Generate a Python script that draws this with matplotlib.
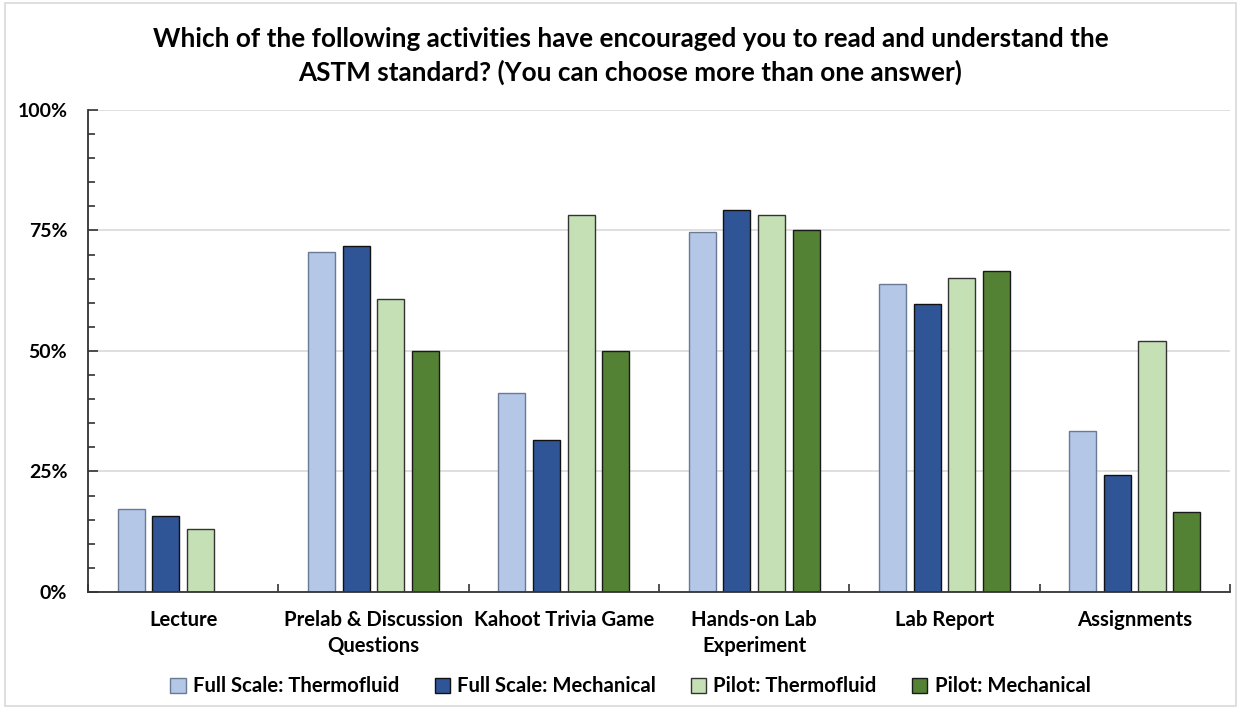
import numpy as np
import matplotlib
matplotlib.use('Agg')
import matplotlib.pyplot as plt
from matplotlib.ticker import MultipleLocator, PercentFormatter
from matplotlib.patches import Rectangle

plt.rcParams['font.family'] = ['Lato', 'DejaVu Sans']
plt.rcParams['font.weight'] = 'bold'

categories = ['Lecture', 'Prelab & Discussion\nQuestions', 'Kahoot Trivia Game',
              'Hands-on Lab\nExperiment', 'Lab Report', 'Assignments']
series_names = ['Full Scale: Thermofluid', 'Full Scale: Mechanical',
                'Pilot: Thermofluid', 'Pilot: Mechanical']
fs_thermo = [17.3, 70.6, 41.3, 74.7, 63.9, 33.4]
fs_mech = [15.7, 71.8, 31.6, 79.2, 59.7, 24.3]
pilot_thermo = [13.0, 60.8, 78.3, 78.3, 65.2, 52.1]
pilot_mech = [0, 50.0, 50.0, 75.0, 66.6, 16.7]

colors = ['#B4C7E7', '#2F5597', '#C5E0B4', '#548235']
edges = ['#6A7A94', '#111111', '#333333', '#1a1a1a']

fig = plt.figure(figsize=(12.41, 7.09), dpi=100)
ax = fig.add_axes([0.071, 0.165, 0.92, 0.68])

x = np.arange(len(categories))
pitch = 0.182
width = 0.142
data = [fs_thermo, fs_mech, pilot_thermo, pilot_mech]
for i, vals in enumerate(data):
    v = np.array(vals, dtype=float)
    xs = x + (i - 1.5) * pitch
    mask = v > 0
    ax.bar(xs[mask], v[mask], width, color=colors[i], edgecolor=edges[i],
           linewidth=1.0, label=series_names[i], zorder=3)

ax.set_xlim(-0.5, len(categories) - 0.5)
ax.set_ylim(0, 100)
ax.yaxis.set_major_locator(MultipleLocator(25))
ax.yaxis.set_minor_locator(MultipleLocator(5))
ax.yaxis.set_major_formatter(PercentFormatter(decimals=0))
ax.grid(axis='y', color='#D9D9D9', linewidth=1.2, zorder=0)

ax.set_xticks(x)
ax.set_xticklabels(categories, fontsize=14.6, fontweight='bold', linespacing=1.4)
ax.set_xticks(np.arange(len(categories) + 1) - 0.5, minor=True)
ax.tick_params(axis='x', which='major', length=0, pad=13)
ax.tick_params(axis='x', which='minor', length=6, direction='in', width=1.2, color='#333333')
ax.tick_params(axis='y', which='major', length=7, direction='in', width=1.2,
               labelsize=14, pad=15, color='#333333')
ax.tick_params(axis='y', which='minor', length=5, direction='in', width=1.2, color='#333333')
for lab in ax.get_yticklabels():
    lab.set_fontweight('bold')

for s in ['top', 'right']:
    ax.spines[s].set_visible(False)
for s in ['left', 'bottom']:
    ax.spines[s].set_color('#333333')
    ax.spines[s].set_linewidth(1.3)
ax.spines['left'].set_zorder(4)
ax.spines['bottom'].set_zorder(4)

fig.suptitle('Which of the following activities have encouraged you to read and understand the\n'
             'ASTM standard? (You can choose more than one answer)',
             fontsize=18.8, fontweight='bold', y=0.962, x=0.508, linespacing=1.4)

leg = fig.legend(loc='center', bbox_to_anchor=(0.508, 0.032), ncol=4, frameon=False,
                 prop={'size': 14.6, 'weight': 'bold'}, handlelength=0.75, handleheight=0.75,
                 handletextpad=0.35, columnspacing=1.75)

fig.patches.append(Rectangle((0.004, 0.004), 0.992, 0.992, transform=fig.transFigure,
                             fill=False, edgecolor='#D9D9D9', linewidth=1.2))

fig.savefig('out.png', dpi=100)
